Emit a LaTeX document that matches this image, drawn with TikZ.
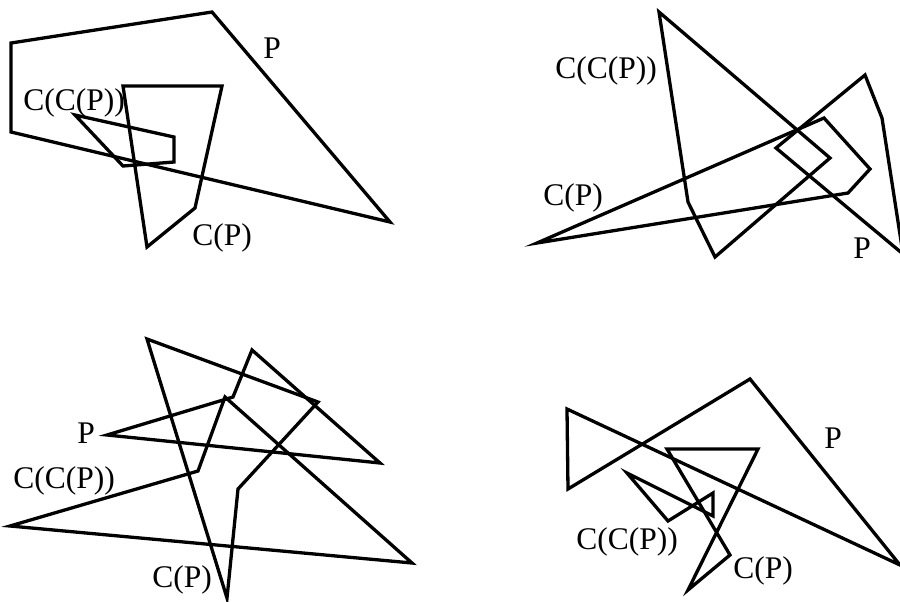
\documentclass[tikz,border=0pt]{standalone}
\usepackage{fontspec}
\setmainfont{Liberation Serif}
\usepackage{tikz}

\begin{document}
\begin{tikzpicture}[x=0.5pt,y=-0.5pt,
    poly/.style={line width=1.65pt},
    lab/.style={anchor=base west,inner sep=0pt,font=\fontsize{15.75}{18}\selectfont}]
    \useasboundingbox (0,0) rectangle (900,601);
    % haut gauche
    \draw[poly] (11,43) -- (212,12) -- (390,222) -- (11,132) -- cycle;
    \draw[poly] (123,86) -- (222,86) -- (195,208) -- (147,247) -- cycle;
    \draw[poly] (75,115) -- (174,137) -- (174,162) -- (123,166) -- cycle;
    \node[lab] (p1) at (263,58) {P};
    \node[lab] (cp1) at (192,245) {C(P)};
    \node[lab] (ccp1) at (23,110) {C(C(P))};
    % haut droite
    \draw[poly] (776,148) -- (865,75) -- (882,118) -- (903,254) -- cycle;
    \draw[poly] (537,243) -- (824,118) -- (870,169) -- (848,193) -- cycle;
    \draw[poly] (659,12) -- (830,158) -- (715,257) -- (688,202) -- cycle;
    \node[lab] (p2) at (853,258) {P};
    \node[lab] (cp2) at (543,205) {C(P)};
    \node[lab] (ccp2) at (555,78) {C(C(P))};
    % bas gauche
    \draw[poly] (252,350) -- (380,463) -- (107,435) -- (233,397) -- cycle;
    \draw[poly] (147,339) -- (318,402) -- (238,489) -- (227,598) -- cycle;
    \draw[poly] (225,397) -- (412,563) -- (10,526) -- (198,471) -- cycle;
    \node[lab] (p3) at (77,443) {P};
    \node[lab] (cp3) at (152,587) {C(P)};
    \node[lab] (ccp3) at (13,488) {C(C(P))};
    % bas droite
    \draw[poly] (567,409) -- (568,489) -- (750,379) -- (900,565) -- cycle;
    \draw[poly] (667,449) -- (758,449) -- (688,590) -- (730,555) -- cycle;
    \draw[poly] (627,473) -- (713,516) -- (713,493) -- (668,521) -- cycle;
    \node[lab] (p4) at (824,448) {P};
    \node[lab] (cp4) at (733,578) {C(P)};
    \node[lab] (ccp4) at (576,549) {C(C(P))};
\end{tikzpicture}
\end{document}
